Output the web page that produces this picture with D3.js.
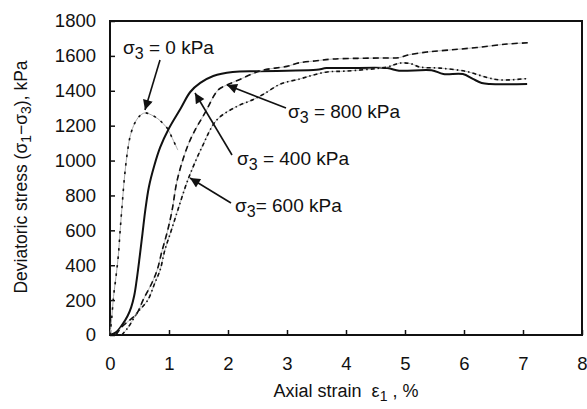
<!DOCTYPE html>
<html>
<head>
<meta charset="utf-8">
<script src="https://cdn.jsdelivr.net/npm/d3@7"></script>
<style>
    body { margin: 0; background: #fff; }
    svg { display: block; }
    text { font-family: "Liberation Sans", Arial, sans-serif; fill: #111; }
</style>
</head>
<body>
<svg id="chart" width="587" height="409"></svg>
<script>
// ---- data ----
const xTicks = [0, 1, 2, 3, 4, 5, 6, 7, 8];
const yTicks = [0, 200, 400, 600, 800, 1000, 1200, 1400, 1600, 1800];

const strain0 = [0, 0.03, 0.06, 0.1, 0.14, 0.17, 0.2, 0.25, 0.3, 0.35, 0.42, 0.5, 0.59, 0.7, 0.81, 0.9, 0.98, 1.06, 1.15];
const stress0 = [0, 100, 220, 330, 450, 590, 720, 920, 1060, 1150, 1215, 1255, 1273, 1262, 1240, 1212, 1180, 1125, 1060];

const strain400 = [0, 0.1, 0.2, 0.3, 0.36, 0.41, 0.45, 0.5, 0.55, 0.6, 0.66, 0.75, 0.85, 1.0, 1.2, 1.36, 1.53, 1.75, 2.08, 2.5, 3.0, 3.5, 3.67, 4.0, 4.7, 4.9, 5.45, 5.65, 5.98, 6.15, 6.3, 6.44, 7.07];
const stress400 = [0, 15, 55, 110, 160, 225, 310, 440, 580, 720, 850, 970, 1075, 1185, 1300, 1393, 1445, 1485, 1508, 1512, 1515, 1520, 1530, 1530, 1530, 1515, 1518, 1496, 1496, 1468, 1445, 1439, 1439];

const strain600 = [0.2, 0.3, 0.46, 0.64, 0.76, 0.85, 0.93, 1.03, 1.15, 1.32, 1.56, 1.81, 2.15, 2.43, 2.6, 2.9, 3.22, 3.44, 3.68, 4.0, 4.69, 4.92, 5.1, 5.25, 5.59, 6.05, 6.39, 6.61, 7.07];
const stress600 = [0, 40, 126, 200, 298, 373, 487, 590, 717, 889, 1078, 1233, 1310, 1350, 1380, 1440, 1468, 1490, 1508, 1513, 1536, 1559, 1555, 1536, 1530, 1510, 1476, 1462, 1470];

const strain800 = [0.1, 0.2, 0.35, 0.46, 0.56, 0.71, 0.8, 0.88, 0.97, 1.05, 1.14, 1.31, 1.45, 1.61, 1.83, 1.98, 2.2, 2.4, 2.6, 3.0, 3.2, 3.5, 3.78, 4.2, 4.6, 4.9, 5.05, 5.37, 5.76, 6.22, 6.73, 7.08];
const stress800 = [0, 46, 90, 126, 200, 298, 373, 480, 590, 710, 889, 1078, 1180, 1273, 1404, 1433, 1465, 1495, 1519, 1540, 1560, 1572, 1582, 1586, 1588, 1590, 1605, 1622, 1634, 1648, 1668, 1675];

const labels = ["0 kPa", "400 kPa", "600 kPa", "800 kPa"];

// ---- layout ----
const svg = d3.select("#chart");
const plotL = 110, plotR = 582, plotT = 21, plotB = 335;

const x = d3.scaleLinear().domain([0, 8]).range([plotL, plotR]);
const y = d3.scaleLinear().domain([0, 1800]).range([plotB, plotT]);

// arrow head
svg.append("defs").append("marker")
    .attr("id", "arrow")
    .attr("viewBox", "0 0 10 10")
    .attr("refX", 10).attr("refY", 5)
    .attr("markerWidth", 12).attr("markerHeight", 10)
    .attr("markerUnits", "userSpaceOnUse")
    .attr("orient", "auto")
    .append("path")
    .attr("d", "M0,0 L10,5 L0,10 Z")
    .attr("fill", "#111");

// axes
const xAxis = svg.append("g")
    .attr("transform", `translate(0,${plotB})`)
    .call(d3.axisBottom(x).tickValues(xTicks).tickSize(-5).tickPadding(22).tickFormat(d3.format("d")));
const yAxis = svg.append("g")
    .attr("transform", `translate(${plotL},0)`)
    .call(d3.axisLeft(y).tickValues(yTicks).tickSize(-5).tickPadding(14).tickFormat(d3.format("d")));

[xAxis, yAxis].forEach(g => {
    g.select(".domain").remove();
    g.selectAll(".tick line").attr("stroke", "#111").attr("stroke-width", 1.5);
    g.selectAll(".tick text").attr("font-size", 18.5).attr("fill", "#111");
});

// frame
svg.append("rect")
    .attr("x", plotL).attr("y", plotT)
    .attr("width", plotR - plotL).attr("height", plotB - plotT)
    .attr("fill", "none").attr("stroke", "#111").attr("stroke-width", 2);

// curves
const line = d3.line()
    .x(d => x(d[0]))
    .y(d => y(d[1]))
    .curve(d3.curveCatmullRom.alpha(0.5));

const series = [
    { pts: d3.zip(strain0, stress0), under: "#aaa", dash: "2.5,6", width: 1.6 },
    { pts: d3.zip(strain400, stress400), under: null, dash: null, width: 2 },
    { pts: d3.zip(strain600, stress600), under: "#bbb", dash: "4,3,1.5,3", width: 1.6 },
    { pts: d3.zip(strain800, stress800), under: "#bbb", dash: "6,4", width: 1.6 }
];

series.forEach(s => {
    if (s.under) {
        svg.append("path")
            .attr("d", line(s.pts))
            .attr("fill", "none")
            .attr("stroke", s.under)
            .attr("stroke-width", 1);
    }
    svg.append("path")
        .attr("d", line(s.pts))
        .attr("fill", "none")
        .attr("stroke", "#111")
        .attr("stroke-width", s.width)
        .attr("stroke-dasharray", s.dash);
});

// annotations
const notes = [
    { label: labels[0], eq: " = ", tx: 123, ty: 54, from: [160, 60], to: [145, 110] },
    { label: labels[3], eq: " = ", tx: 288, ty: 118, from: [286, 108], to: [227, 85] },
    { label: labels[1], eq: " = ", tx: 237, ty: 165, from: [232, 155], to: [195, 93] },
    { label: labels[2], eq: "= ", tx: 235, ty: 212, from: [231, 203], to: [190, 178] }
];

notes.forEach(n => {
    const t = svg.append("text")
        .attr("x", n.tx).attr("y", n.ty)
        .attr("font-size", 19)
        .style("white-space", "pre");
    t.append("tspan").text("σ");
    t.append("tspan").attr("dy", 5).attr("font-size", 16).text("3");
    t.append("tspan").attr("dy", -5).text(n.eq + n.label);

    svg.append("line")
        .attr("x1", n.from[0]).attr("y1", n.from[1])
        .attr("x2", n.to[0]).attr("y2", n.to[1])
        .attr("stroke", "#111").attr("stroke-width", 1.6)
        .attr("marker-end", "url(#arrow)");
});

// axis titles
const xt = svg.append("text")
    .attr("x", 346).attr("y", 397)
    .attr("text-anchor", "middle")
    .attr("font-size", 18)
    .style("white-space", "pre");
xt.append("tspan").text("Axial strain  ε");
xt.append("tspan").attr("dy", 4).attr("font-size", 14).text("1");
xt.append("tspan").attr("dy", -4).text(" , %");

const yt = svg.append("text")
    .attr("transform", "translate(27,177) rotate(-90)")
    .attr("text-anchor", "middle")
    .attr("font-size", 17.5);
yt.append("tspan").text("Deviatoric stress (σ");
yt.append("tspan").attr("dy", 4).attr("font-size", 14).text("1");
yt.append("tspan").attr("dy", -4).text("−σ");
yt.append("tspan").attr("dy", 4).attr("font-size", 14).text("3");
yt.append("tspan").attr("dy", -4).text("), kPa");
</script>
</body>
</html>
